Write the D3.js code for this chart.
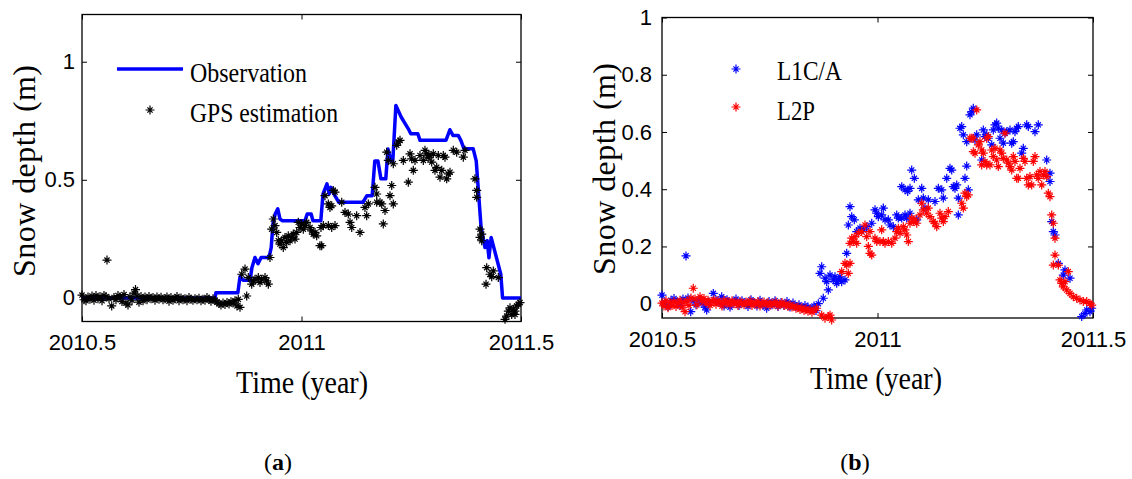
<!DOCTYPE html>
<html>
<head>
<meta charset="utf-8">
<script src="https://cdn.jsdelivr.net/npm/d3@7"></script>
<style>
  body { margin: 0; background: #fff; }
  svg { display: block; }
</style>
</head>
<body>
<svg id="fig" width="1132" height="479"></svg>
<script>
// ---- Panel (a): observed snow depth and GPS estimate, [decimal year, metres] ----
const observation = [
  [2010.500,0],[2010.803,0],[2010.805,0.022],[2010.855,0.022],[2010.860,0.090],[2010.867,0.075],
  [2010.883,0.075],[2010.887,0.128],[2010.894,0.171],[2010.901,0.145],[2010.908,0.171],[2010.926,0.171],
  [2010.931,0.213],[2010.935,0.314],[2010.940,0.355],[2010.946,0.377],[2010.951,0.334],[2010.956,0.327],
  [2011.008,0.327],[2011.013,0.355],[2011.022,0.355],[2011.026,0.327],[2011.044,0.327],[2011.049,0.440],
  [2011.058,0.483],[2011.063,0.440],[2011.067,0.468],[2011.076,0.433],[2011.085,0.405],[2011.140,0.405],
  [2011.149,0.433],[2011.161,0.433],[2011.167,0.580],[2011.174,0.580],[2011.181,0.504],[2011.192,0.504],
  [2011.197,0.630],[2011.204,0.580],[2011.208,0.580],[2011.215,0.815],[2011.227,0.766],[2011.236,0.738],
  [2011.243,0.717],[2011.249,0.695],[2011.265,0.695],[2011.270,0.667],[2011.329,0.667],[2011.338,0.712],
  [2011.345,0.688],[2011.357,0.688],[2011.363,0.667],[2011.370,0.632],[2011.391,0.632],[2011.398,0.580],
  [2011.409,0.300],[2011.418,0.213],[2011.423,0.242],[2011.427,0.170],[2011.432,0.256],[2011.454,0.100],
  [2011.458,0],[2011.500,0]
];

const gpsEstimation = [
  [2010.5000,0.012],[2010.5046,-0.008],[2010.5091,-0.012],[2010.5137,0.004],[2010.5182,-0.006],[2010.5228,0.008],
  [2010.5273,-0.010],[2010.5319,0.010],[2010.5364,-0.004],[2010.5410,0.006],[2010.5456,-0.012],[2010.5501,0.010],
  [2010.5547,0.006],[2010.5569,0.160],[2010.5615,-0.004],[2010.5677,-0.034],[2010.5729,0.002],[2010.5774,-0.008],
  [2010.5820,0.010],[2010.5866,0.004],[2010.5911,-0.015],[2010.5957,0.014],[2010.6002,-0.022],[2010.6048,-0.030],
  [2010.6093,0.004],[2010.6139,-0.010],[2010.6185,0.020],[2010.6219,0.035],[2010.6253,0.008],[2010.6298,-0.018],
  [2010.6344,0.006],[2010.6390,-0.012],[2010.6435,0.004],[2010.6481,-0.008],[2010.6526,0.006],[2010.6572,-0.004],
  [2010.6617,0.002],[2010.6663,-0.010],[2010.6708,0.004],[2010.6754,-0.006],[2010.6800,0.003],[2010.6845,-0.008],
  [2010.6891,-0.004],[2010.6936,0.004],[2010.6982,-0.014],[2010.7027,0.002],[2010.7073,-0.010],[2010.7118,-0.004],
  [2010.7164,0.006],[2010.7210,-0.012],[2010.7255,0.000],[2010.7301,-0.008],[2010.7346,-0.004],[2010.7392,-0.012],
  [2010.7437,0.002],[2010.7483,-0.006],[2010.7528,-0.010],[2010.7574,-0.004],[2010.7620,-0.008],[2010.7665,-0.002],
  [2010.7711,-0.012],[2010.7756,-0.006],[2010.7802,-0.010],[2010.7847,0.002],[2010.7893,-0.006],[2010.7938,-0.014],
  [2010.7984,-0.004],[2010.8030,-0.010],[2010.8075,-0.018],[2010.8121,-0.024],[2010.8166,-0.030],[2010.8212,-0.022],
  [2010.8257,-0.028],[2010.8303,-0.020],[2010.8349,-0.026],[2010.8394,-0.016],[2010.8440,-0.022],[2010.8485,-0.012],
  [2010.8531,-0.034],[2010.8560,-0.006],[2010.8599,-0.040],
  [2010.8638,0.100],[2010.8713,0.122],[2010.8752,0.008],[2010.8788,0.086],[2010.8866,0.058],[2010.8902,0.072],
  [2010.8941,0.079],[2010.9016,0.086],[2010.9055,0.065],[2010.9093,0.079],[2010.9169,0.086],[2010.9207,0.072],
  [2010.9244,0.058],[2010.9282,0.171],[2010.9321,0.291],[2010.9358,0.334],[2010.9396,0.306],[2010.9435,0.277],
  [2010.9472,0.242],[2010.9510,0.228],[2010.9549,0.242],[2010.9585,0.213],[2010.9624,0.256],[2010.9663,0.235],
  [2010.9699,0.263],[2010.9738,0.242],[2010.9777,0.256],[2010.9813,0.270],[2010.9852,0.249],[2010.9891,0.277],
  [2010.9927,0.320],[2010.9966,0.298],[2011.0005,0.313],[2011.0041,0.291],[2011.0080,0.306],[2011.0118,0.320],
  [2011.0194,0.298],[2011.0232,0.284],[2011.0269,0.270],[2011.0308,0.277],[2011.0346,0.263],[2011.0421,0.221],
  [2011.0444,0.298],[2011.0460,0.221],[2011.0497,0.306],[2011.0535,0.433],[2011.0611,0.398],[2011.0611,0.306],
  [2011.0649,0.383],[2011.0688,0.390],[2011.0688,0.298],[2011.0724,0.455],[2011.0763,0.448],[2011.0763,0.306],
  [2011.0916,0.405],[2011.0991,0.362],[2011.1066,0.355],[2011.1105,0.320],[2011.1144,0.298],[2011.1257,0.348],
  [2011.1333,0.277],[2011.1446,0.383],[2011.1485,0.348],[2011.1522,0.398],[2011.1674,0.468],[2011.1713,0.440],
  [2011.1713,0.405],[2011.1788,0.405],[2011.1827,0.398],[2011.1863,0.313],[2011.1902,0.370],[2011.1941,0.617],
  [2011.1977,0.582],[2011.2016,0.433],[2011.2055,0.476],[2011.2091,0.398],[2011.2091,0.568],[2011.2169,0.646],
  [2011.2205,0.660],[2011.2244,0.667],[2011.2319,0.582],[2011.2433,0.490],[2011.2472,0.610],[2011.2510,0.589],
  [2011.2547,0.540],[2011.2585,0.582],[2011.2699,0.603],[2011.2775,0.582],[2011.2813,0.625],[2011.2852,0.610],
  [2011.2888,0.596],[2011.2927,0.603],[2011.2966,0.575],[2011.3002,0.610],[2011.3041,0.540],[2011.3080,0.553],
  [2011.3116,0.603],[2011.3155,0.511],[2011.3194,0.540],[2011.3230,0.603],[2011.3269,0.596],[2011.3308,0.504],
  [2011.3344,0.525],[2011.3383,0.532],[2011.3458,0.625],[2011.3535,0.617],[2011.3686,0.596],[2011.3724,0.625],
  [2011.3952,0.504],[2011.3991,0.455],[2011.3991,0.426],[2011.4066,0.291],[2011.4066,0.256],[2011.4105,0.270],
  [2011.4105,0.242],[2011.4203,0.058],[2011.4219,0.128],[2011.4294,0.100],[2011.4333,0.090],[2011.4369,0.114],
  [2011.4483,0.086],[2011.4636,-0.091],[2011.4674,-0.077],[2011.4711,-0.056],[2011.4749,-0.042],[2011.4788,-0.070],
  [2011.4825,-0.048],[2011.4863,-0.056],[2011.4863,-0.070],[2011.4902,-0.034],[2011.4939,-0.027],[2011.4977,-0.020]
];

// ---- Panel (b): estimates from the two GPS signals ----
const l1ca = [
  [2010.5000,0.030],[2010.5070,0.004],[2010.5139,-0.010],[2010.5209,0.012],[2010.5278,0.018],[2010.5348,0.008],
  [2010.5418,-0.006],[2010.5487,0.016],[2010.5557,0.167],[2010.5603,0.020],[2010.5666,-0.028],[2010.5719,0.010],
  [2010.5789,-0.004],[2010.5858,0.014],[2010.5928,0.002],[2010.5998,-0.012],[2010.6037,-0.022],[2010.6091,0.006],
  [2010.6190,0.036],[2010.6253,0.012],[2010.6323,0.004],[2010.6385,0.024],[2010.6439,-0.008],[2010.6508,0.014],
  [2010.6578,-0.012],[2010.6647,0.006],[2010.6717,0.016],[2010.6787,-0.006],[2010.6856,0.010],[2010.6926,0.002],
  [2010.6995,-0.010],[2010.7065,0.014],[2010.7135,0.004],[2010.7204,-0.008],[2010.7274,0.012],[2010.7343,-0.006],
  [2010.7429,-0.016],[2010.7483,0.008],[2010.7552,-0.004],[2010.7622,0.010],[2010.7691,-0.010],[2010.7761,0.004],
  [2010.7831,-0.006],[2010.7900,0.008],[2010.7970,-0.012],[2010.8039,0.002],[2010.8109,-0.010],[2010.8179,-0.004],
  [2010.8248,-0.016],[2010.8318,-0.006],[2010.8387,-0.012],[2010.8457,-0.018],[2010.8527,-0.008],[2010.8573,-0.024],
  [2010.8627,0.000],[2010.8742,0.019],[2010.8666,0.106],[2010.8705,0.129],[2010.8782,0.089],[2010.8821,0.077],
  [2010.8859,0.048],[2010.8898,0.100],[2010.8975,0.083],[2010.9014,0.094],[2010.9053,0.071],[2010.9091,0.083],
  [2010.9130,0.094],[2010.9169,0.077],[2010.9246,0.083],[2010.9285,0.176],[2010.9323,0.275],[2010.9362,0.339],
  [2010.9401,0.304],[2010.9462,0.293],[2010.9517,0.252],[2010.9594,0.264],[2010.9671,0.258],[2010.9749,0.269],
  [2010.9866,0.281],[2010.9942,0.328],[2010.9982,0.316],[2011.0019,0.304],[2011.0097,0.310],[2011.0135,0.334],
  [2011.0174,0.293],[2011.0251,0.293],[2011.0290,0.275],[2011.0367,0.269],[2011.0446,0.310],[2011.0483,0.299],
  [2011.0562,0.299],[2011.0638,0.310],[2011.0678,0.299],[2011.0754,0.316],[2011.0562,0.409],[2011.0638,0.398],
  [2011.0701,0.392],[2011.0754,0.403],[2011.0794,0.467],[2011.0854,0.438],[2011.0910,0.293],[2011.0947,0.363],
  [2011.1026,0.403],[2011.1063,0.369],[2011.1102,0.334],[2011.1179,0.363],[2011.1334,0.357],[2011.1411,0.403],
  [2011.1490,0.398],[2011.1527,0.369],[2011.1606,0.438],[2011.1682,0.473],[2011.1722,0.467],[2011.1759,0.409],
  [2011.1798,0.403],[2011.1838,0.415],[2011.1875,0.369],[2011.1875,0.310],[2011.1914,0.613],[2011.1954,0.619],
  [2011.1991,0.590],[2011.2030,0.438],[2011.2070,0.566],[2011.2070,0.481],[2011.2107,0.398],[2011.2146,0.660],
  [2011.2186,0.671],[2011.2223,0.683],[2011.2262,0.572],[2011.2302,0.590],[2011.2418,0.502],[2011.2455,0.607],
  [2011.2494,0.584],[2011.2534,0.590],[2011.2571,0.578],[2011.2650,0.555],[2011.2687,0.607],[2011.2726,0.625],
  [2011.2766,0.631],[2011.2803,0.613],[2011.2842,0.578],[2011.2882,0.607],[2011.2919,0.561],[2011.2958,0.596],
  [2011.2998,0.601],[2011.3074,0.607],[2011.3114,0.561],[2011.3151,0.566],[2011.3190,0.601],[2011.3230,0.613],
  [2011.3267,0.619],[2011.3346,0.526],[2011.3383,0.543],[2011.3462,0.625],[2011.3499,0.619],[2011.3654,0.601],
  [2011.3731,0.625],[2011.3926,0.502],[2011.4002,0.456],[2011.4002,0.427],[2011.4042,0.287],[2011.4079,0.252],
  [2011.4118,0.240],[2011.4195,0.141],[2011.4311,0.100],[2011.4350,0.118],[2011.4466,0.089],[2011.4738,-0.045],
  [2011.4814,-0.035],[2011.4854,-0.022],[2011.4930,-0.028],[2011.4970,-0.016]
];

const l2p = [
  [2010.5000,0.002],[2010.5046,-0.008],[2010.5093,0.010],[2010.5139,-0.014],[2010.5186,0.004],[2010.5232,-0.006],
  [2010.5278,0.008],[2010.5325,-0.010],[2010.5371,0.002],[2010.5418,0.012],[2010.5464,-0.012],[2010.5510,0.004],
  [2010.5534,-0.028],[2010.5580,0.010],[2010.5626,-0.006],[2010.5673,0.020],[2010.5726,0.054],[2010.5766,0.016],
  [2010.5812,-0.004],[2010.5882,0.024],[2010.5928,0.010],[2010.5974,0.018],[2010.6021,0.002],[2010.6067,0.012],
  [2010.6114,-0.006],[2010.6160,0.008],[2010.6207,0.014],[2010.6253,-0.002],[2010.6299,0.010],[2010.6346,0.004],
  [2010.6392,-0.008],[2010.6439,0.012],[2010.6485,0.002],[2010.6531,0.008],[2010.6578,-0.004],[2010.6624,0.010],
  [2010.6671,0.000],[2010.6717,0.006],[2010.6763,-0.006],[2010.6810,0.008],[2010.6856,0.002],[2010.6903,-0.004],
  [2010.6949,0.006],[2010.6995,0.000],[2010.7042,0.010],[2010.7088,-0.006],[2010.7135,0.004],[2010.7181,-0.002],
  [2010.7227,0.008],[2010.7274,-0.008],[2010.7320,0.002],[2010.7367,0.006],[2010.7413,-0.004],[2010.7459,0.004],
  [2010.7506,-0.006],[2010.7552,0.002],[2010.7599,-0.002],[2010.7645,0.006],[2010.7691,-0.008],[2010.7738,-0.002],
  [2010.7784,0.004],[2010.7831,-0.006],[2010.7877,0.000],[2010.7923,-0.010],[2010.7970,-0.004],[2010.8016,-0.012],
  [2010.8063,-0.008],[2010.8109,-0.016],[2010.8155,-0.012],[2010.8202,-0.020],[2010.8248,-0.014],[2010.8295,-0.024],
  [2010.8341,-0.018],[2010.8387,-0.026],[2010.8434,-0.020],[2010.8480,-0.030],[2010.8527,-0.022],
  [2010.8589,-0.016],[2010.8705,-0.040],[2010.8782,-0.051],[2010.8859,-0.045],[2010.8898,-0.040],[2010.8937,-0.057],
  [2010.9169,0.112],[2010.9246,0.141],[2010.9285,0.135],[2010.9323,0.106],[2010.9362,0.141],[2010.9362,0.211],
  [2010.9401,0.229],[2010.9439,0.217],[2010.9478,0.234],[2010.9517,0.211],[2010.9555,0.246],[2010.9633,0.252],
  [2010.9710,0.275],[2010.9749,0.234],[2010.9787,0.200],[2010.9826,0.176],[2010.9866,0.170],[2010.9826,0.252],
  [2010.9942,0.229],[2010.9982,0.217],[2011.0058,0.217],[2011.0097,0.258],[2011.0135,0.217],[2011.0174,0.211],
  [2011.0251,0.217],[2011.0330,0.211],[2011.0406,0.229],[2011.0446,0.252],[2011.0483,0.264],[2011.0522,0.246],
  [2011.0599,0.269],[2011.0638,0.258],[2011.0678,0.240],[2011.0715,0.217],[2011.0754,0.281],[2011.0794,0.299],
  [2011.0831,0.287],[2011.0870,0.293],[2011.0910,0.281],[2011.0986,0.310],[2011.1026,0.351],[2011.1063,0.328],
  [2011.1142,0.316],[2011.1179,0.334],[2011.1218,0.304],[2011.1295,0.287],[2011.1334,0.281],[2011.1374,0.269],
  [2011.1450,0.316],[2011.1490,0.299],[2011.1527,0.287],[2011.1566,0.304],[2011.1643,0.322],[2011.1954,0.351],
  [2011.1991,0.334],[2011.2030,0.386],[2011.2070,0.374],[2011.2107,0.380],[2011.2146,0.578],[2011.2186,0.578],
  [2011.2223,0.578],[2011.2302,0.677],[2011.2223,0.531],[2011.2262,0.526],[2011.2339,0.555],[2011.2378,0.566],
  [2011.2418,0.537],[2011.2455,0.526],[2011.2494,0.497],[2011.2534,0.578],[2011.2571,0.584],[2011.2418,0.485],
  [2011.2534,0.485],[2011.2610,0.485],[2011.2650,0.537],[2011.2687,0.514],[2011.2726,0.543],[2011.2766,0.502],
  [2011.2803,0.479],[2011.2842,0.537],[2011.2882,0.526],[2011.2919,0.508],[2011.2958,0.596],[2011.2998,0.502],
  [2011.3035,0.491],[2011.3074,0.479],[2011.3114,0.467],[2011.3151,0.514],[2011.3190,0.497],[2011.3230,0.438],
  [2011.3267,0.438],[2011.3306,0.473],[2011.3383,0.508],[2011.3422,0.497],[2011.3462,0.438],[2011.3499,0.415],
  [2011.3538,0.444],[2011.3578,0.415],[2011.3615,0.497],[2011.3654,0.514],[2011.3694,0.450],[2011.3731,0.438],
  [2011.3770,0.462],[2011.3810,0.415],[2011.3847,0.450],[2011.3886,0.462],[2011.3926,0.444],[2011.3963,0.386],
  [2011.4002,0.374],[2011.4042,0.310],[2011.4079,0.281],[2011.4118,0.229],[2011.4118,0.170],[2011.4079,0.135],
  [2011.4195,0.135],[2011.4234,0.083],[2011.4274,0.071],[2011.4311,0.059],[2011.4350,0.077],[2011.4390,0.048],
  [2011.4427,0.112],[2011.4466,0.036],[2011.4543,0.024],[2011.4622,0.019],[2011.4698,0.013],[2011.4775,0.008],
  [2011.4854,0.008],[2011.4930,0.001],[2011.4970,-0.005]
];

// ---- Axis ticks and labels ----
const timeTicks = [2010.5, 2011, 2011.5];
const timeTickLabels = ["2010.5", "2011", "2011.5"];
const depthTicksA = [0, 0.5, 1];
const depthTickLabelsA = ["0", "0.5", "1"];
const depthTicksB = [0, 0.2, 0.4, 0.6, 0.8, 1];
const depthTickLabelsB = ["0", "0.2", "0.4", "0.6", "0.8", "1"];

const SANS = "'Liberation Sans', Arial, sans-serif";
const SERIF = "'Liberation Serif', 'Times New Roman', serif";
const BLUE = "#0000ff", RED = "#ff0000", BLACK = "#000000";

// MATLAB-style '*' marker: a plus with a shorter cross through it
const starPath = "M-4.5,0H4.5M0,-4.5V4.5M-2.6,-2.6L2.6,2.6M-2.6,2.6L2.6,-2.6";

const svg = d3.select("#fig");

function drawFrame(o) {
  const x = d3.scaleLinear().domain([2010.5, 2011.5]).range([o.left, o.right]);
  const y = d3.scaleLinear().domain(o.yDomain).range([o.bottom, o.top]);
  const g = svg.append("g");
  const fmt = (vals, labels) => d => labels[vals.indexOf(d)];

  const axes = [
    g.append("g").attr("transform", `translate(0,${o.bottom})`)
      .call(d3.axisBottom(x).tickValues(timeTicks).tickFormat(fmt(timeTicks, timeTickLabels))
        .tickSize(-5).tickPadding(o.xPad)),
    g.append("g").attr("transform", `translate(0,${o.top})`)
      .call(d3.axisTop(x).tickValues(timeTicks).tickFormat(() => "").tickSize(-5)),
    g.append("g").attr("transform", `translate(${o.left},0)`)
      .call(d3.axisLeft(y).tickValues(o.yTicks).tickFormat(fmt(o.yTicks, o.yLabels))
        .tickSize(-5).tickPadding(o.yPad)),
    g.append("g").attr("transform", `translate(${o.right},0)`)
      .call(d3.axisRight(y).tickValues(o.yTicks).tickFormat(() => "").tickSize(-5))
  ];
  axes.forEach(a => {
    a.select(".domain").remove();
    a.selectAll(".tick line").attr("stroke", BLACK).attr("stroke-width", 1);
    a.selectAll("text").attr("fill", BLACK).style("font-family", SANS).style("font-size", "22px");
  });

  g.append("rect")
    .attr("x", o.left).attr("y", o.top)
    .attr("width", o.right - o.left).attr("height", o.bottom - o.top)
    .attr("fill", "none").attr("stroke", BLACK).attr("stroke-width", 1.3);

  // axis titles
  g.append("text")
    .attr("transform", `translate(${o.yTitleX},${o.yTitleY}) rotate(-90)`)
    .attr("text-anchor", "middle")
    .attr("textLength", 212).attr("lengthAdjust", "spacing")
    .style("font-family", SERIF).style("font-size", "32px")
    .text("Snow depth (m)");
  g.append("text")
    .attr("x", o.xTitleX).attr("y", o.xTitleY)
    .attr("text-anchor", "middle")
    .attr("textLength", 132).attr("lengthAdjust", "spacingAndGlyphs")
    .style("font-family", SERIF).style("font-size", "32px")
    .text("Time (year)");

  // panel caption, e.g. "(a)"
  const cap = g.append("text")
    .attr("x", o.capX).attr("y", 470).attr("text-anchor", "middle")
    .style("font-family", SERIF).style("font-size", "24px");
  cap.append("tspan").text("(");
  cap.append("tspan").style("font-weight", "bold").text(o.caption);
  cap.append("tspan").text(")");

  return { x, y, g };
}

function drawStars(g, x, y, data, color) {
  g.append("g").selectAll("path").data(data).join("path")
    .attr("d", starPath)
    .attr("transform", d => `translate(${x(d[0])},${y(d[1])})`)
    .attr("fill", "none").attr("stroke", color).attr("stroke-width", 1.2);
}

function legendText(g, px, py, len, label) {
  g.append("text").attr("x", px).attr("y", py)
    .attr("textLength", len).attr("lengthAdjust", "spacingAndGlyphs")
    .style("font-family", SERIF).style("font-size", "27px")
    .text(label);
}

// ---------- Panel (a) ----------
const A = drawFrame({
  left: 82, right: 521, top: 14.5, bottom: 321.5,
  yDomain: [-0.1, 1.2], yTicks: depthTicksA, yLabels: depthTickLabelsA,
  xPad: 13, yPad: 7,
  yTitleX: 35, yTitleY: 171, xTitleX: 302, xTitleY: 393,
  capX: 278, caption: "a"
});

A.g.append("path")
  .datum(observation)
  .attr("d", d3.line().x(d => A.x(d[0])).y(d => A.y(d[1])))
  .attr("fill", "none").attr("stroke", BLUE).attr("stroke-width", 3.5)
  .attr("stroke-linejoin", "round");
drawStars(A.g, A.x, A.y, gpsEstimation, BLACK);

// legend (a)
A.g.append("line").attr("x1", 117).attr("x2", 183).attr("y1", 69).attr("y2", 69)
  .attr("stroke", BLUE).attr("stroke-width", 3.5);
legendText(A.g, 190, 81.5, 117, "Observation");
A.g.append("path").attr("d", starPath).attr("transform", "translate(150,110)")
  .attr("fill", "none").attr("stroke", BLACK).attr("stroke-width", 1.2);
legendText(A.g, 190, 121.5, 148, "GPS estimation");

// ---------- Panel (b) ----------
const B = drawFrame({
  left: 662, right: 1093, top: 17.5, bottom: 318,
  yDomain: [-0.05, 1], yTicks: depthTicksB, yLabels: depthTickLabelsB,
  xPad: 13, yPad: 10,
  yTitleX: 615, yTitleY: 169, xTitleX: 876, xTitleY: 389,
  capX: 855, caption: "b"
});

drawStars(B.g, B.x, B.y, l1ca, BLUE);
drawStars(B.g, B.x, B.y, l2p, RED);

// legend (b)
B.g.append("path").attr("d", starPath).attr("transform", "translate(736,69)")
  .attr("fill", "none").attr("stroke", BLUE).attr("stroke-width", 1.2);
legendText(B.g, 777, 79.5, 65, "L1C/A");
B.g.append("path").attr("d", starPath).attr("transform", "translate(736,107)")
  .attr("fill", "none").attr("stroke", RED).attr("stroke-width", 1.2);
legendText(B.g, 777, 120, 38, "L2P");
</script>
</body>
</html>
